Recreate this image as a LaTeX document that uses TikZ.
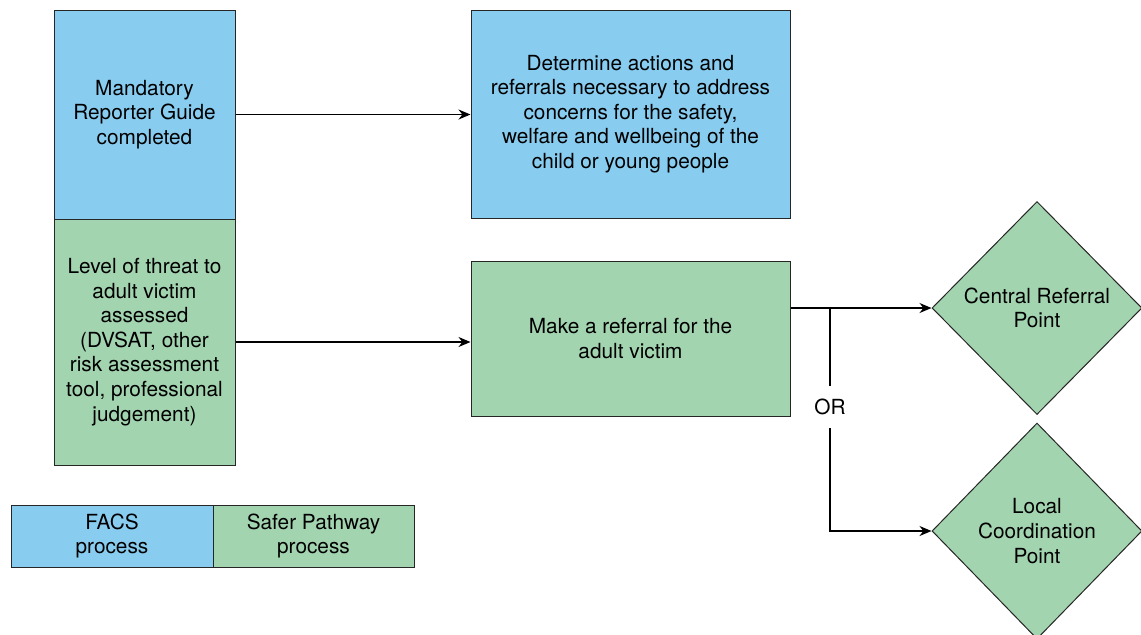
\documentclass[tikz,border=0pt]{standalone}
\usepackage{fontspec}
\setmainfont{TeX Gyre Heros}
\usepackage{tikz}
\usetikzlibrary{shapes.geometric}
\usetikzlibrary{arrows.meta}

\definecolor{facsblue}{RGB}{136,204,240}
\definecolor{safergreen}{RGB}{163,212,176}

\begin{document}
\begin{tikzpicture}[x=0.5pt, y=-0.5pt,
  every node/.style={font=\fontsize{10.4}{12.3}\selectfont, align=center, inner sep=0pt},
  facs/.style={draw=black!85, fill=facsblue, line width=0.5pt},
  safer/.style={draw=black!85, fill=safergreen, line width=0.5pt},
  decision/.style={diamond, draw=black!85, fill=safergreen, line width=0.5pt},
  flow/.style={-{Stealth[length=6pt, width=5pt]}, line width=0.6pt}]
%%% frame of the picture %%%
      \useasboundingbox (0,0) rectangle (1141,634);

      %% left column
      \node[facs, minimum width=90.5pt, minimum height=104.5pt] (guide) at (144.5,114.5)
        {Mandatory\\ Reporter Guide\\ completed};
      \node[safer, minimum width=90.5pt, minimum height=123pt] (threat) at (144.5,342)
        {Level of threat to\\ adult victim\\ assessed\\ (DVSAT, other\\ risk assessment\\ tool, professional\\ judgement)};

      %% middle column
      \node[facs, minimum width=159.5pt, minimum height=104pt] (actions) at (630.5,114)
        {Determine actions and\\ referrals necessary to address\\ concerns for the safety,\\ welfare and wellbeing of the\\ child or young people};
      \node[safer, minimum width=159.5pt, minimum height=77.5pt] (referral) at (630.5,338.5)
        {Make a referral for the\\ adult victim};

      %% right column
      \node[decision, minimum width=105pt, minimum height=106.5pt] (central) at (1037,308)
        {Central Referral\\ Point};
      \node[decision, minimum width=105pt, minimum height=108pt] (local) at (1037,531)
        {Local\\ Coordination\\ Point};

      %% legend
      \node[facs, minimum width=101pt, minimum height=31pt] (legfacs) at (112,536)
        {FACS\\ process};
      \node[safer, minimum width=100.5pt, minimum height=31pt] (legsafer) at (313.5,536)
        {Safer Pathway\\ process};

      %% connectors
      \coordinate (split) at (830,309);
      \node[minimum height=21pt] (or) at (830,407) {OR};

      \draw[flow] (guide.east) -- (guide.east -| actions.west);
      \draw[flow] (threat.east) -- (threat.east -| referral.west);
      \draw[flow] (referral.east |- central.west) -- (central.west);
      \draw[line width=0.6pt] (split) -- (or.north);
      \draw[flow] (or.south) |- (local.west);

\end{tikzpicture}
\end{document}
